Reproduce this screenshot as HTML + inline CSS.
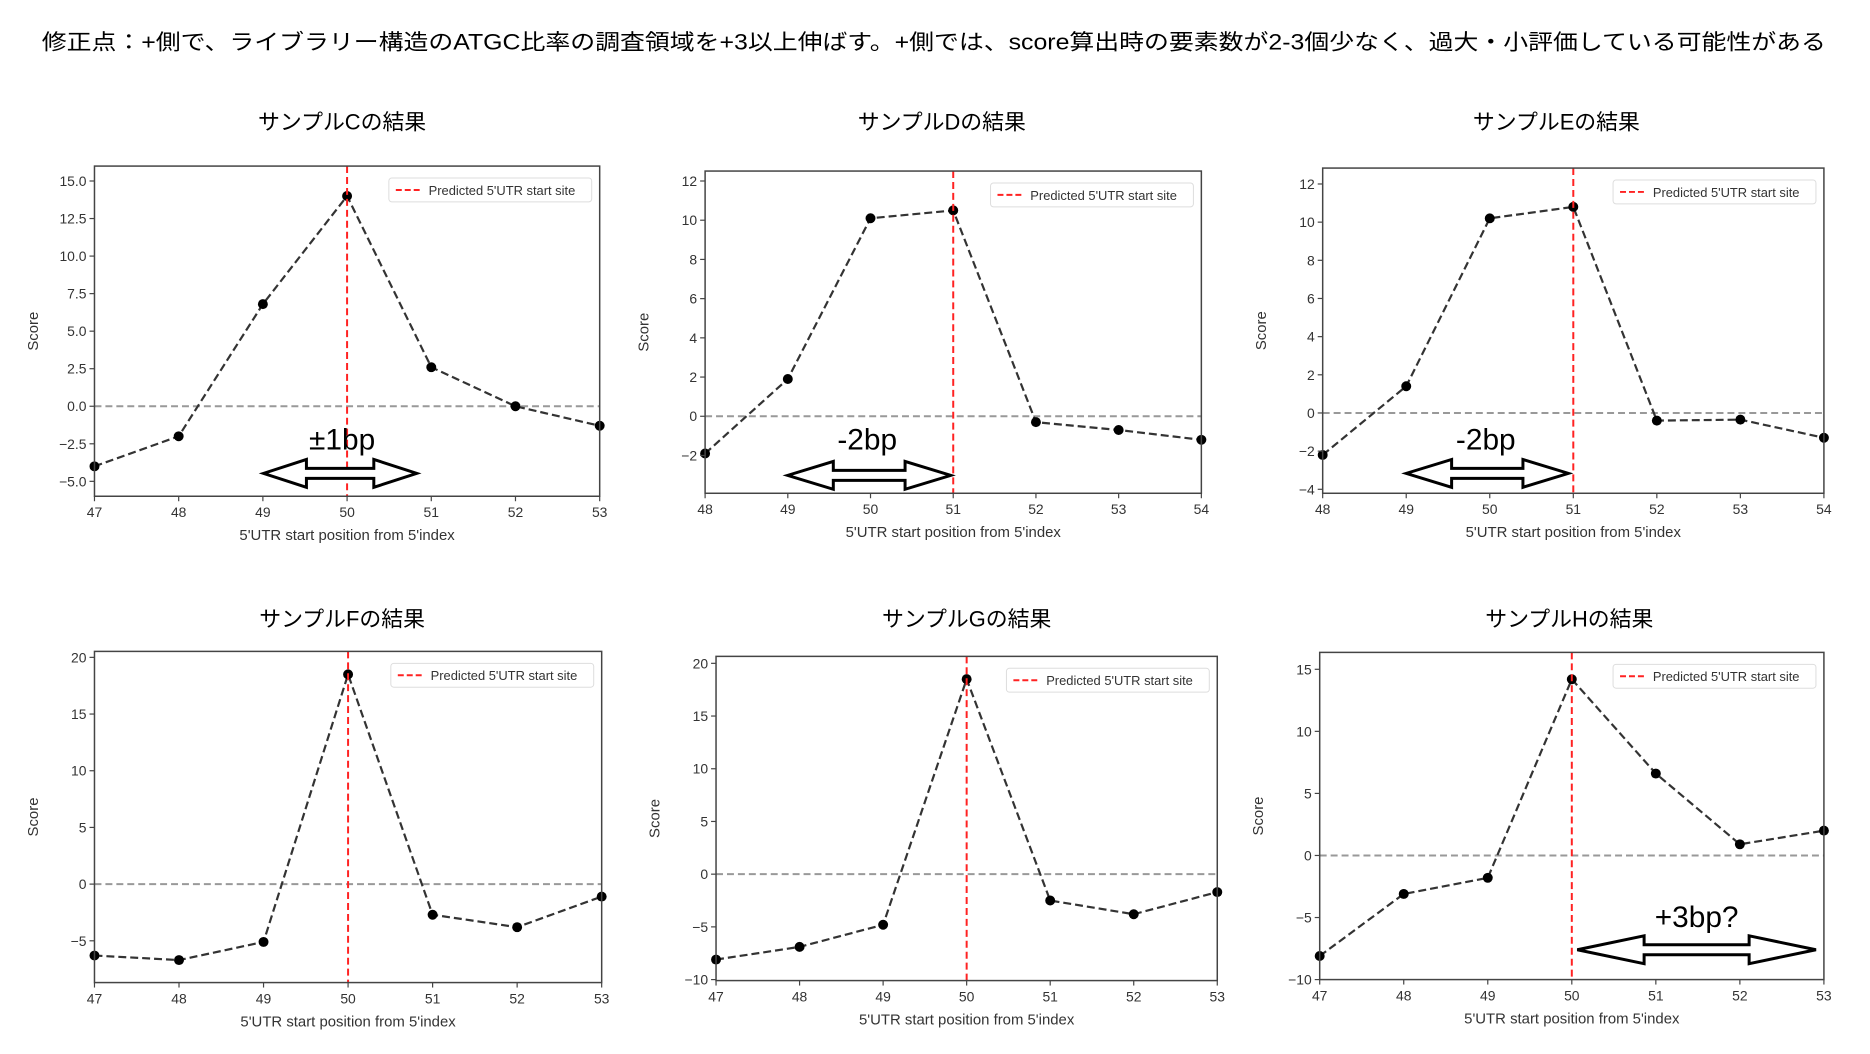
<!DOCTYPE html>
<html><head><meta charset="utf-8">
<style>
html,body{margin:0;padding:0;background:#fff;}
svg{display:block;font-family:"Liberation Sans","DejaVu Sans","Noto Sans CJK JP",sans-serif;}
</style></head>
<body>
<svg width="1870" height="1054" viewBox="0 0 1870 1054" xmlns="http://www.w3.org/2000/svg">
<g id="fig" transform="scale(0.9945)">
<text x="42" y="50" font-size="22" textLength="1794" lengthAdjust="spacingAndGlyphs" fill="#000" font-family="Liberation Sans, Noto Sans CJK JP, sans-serif">修正点：+側で、ライブラリー構造のATGC比率の調査領域を+3以上伸ばす。+側では、score算出時の要素数が2-3個少なく、過大・小評価している可能性がある</text>
</g>
</svg>
<script>
const xC=[47,48,49,50,51,52,53], yC=[-4.0,-2.0,6.8,14.0,2.6,0.0,-1.3];
const xD=[48,49,50,51,52,53,54], yD=[-1.9,1.9,10.1,10.5,-0.3,-0.7,-1.2];
const xE=[48,49,50,51,52,53,54], yE=[-2.2,1.4,10.2,10.8,-0.4,-0.35,-1.3];
const xF=[47,48,49,50,51,52,53], yF=[-6.3,-6.7,-5.1,18.5,-2.7,-3.8,-1.1];
const xG=[47,48,49,50,51,52,53], yG=[-8.1,-6.9,-4.8,18.5,-2.5,-3.8,-1.7];
const xH=[47,48,49,50,51,52,53], yH=[-8.1,-3.1,-1.8,14.2,6.6,0.9,2.0];
const ticksC=[-5,-2.5,0,2.5,5,7.5,10,12.5,15];
const ticksD=[-2,0,2,4,6,8,10,12];
const ticksE=[-4,-2,0,2,4,6,8,10,12];
const ticksF=[-5,0,5,10,15,20];
const ticksG=[-10,-5,0,5,10,15,20];
const ticksH=[-10,-5,0,5,10,15];
const predicted=[50,51,51,50,50,50];
const titles=["サンプルCの結果","サンプルDの結果","サンプルEの結果","サンプルFの結果","サンプルGの結果","サンプルHの結果"];
const annos=["±1bp","-2bp","-2bp",null,null,"+3bp?"];

const NS="http://www.w3.org/2000/svg";
const svg=document.getElementById('fig');
function mk(tag,attrs,parent){const e=document.createElementNS(NS,tag);for(const k in attrs)e.setAttribute(k,attrs[k]);(parent||svg).appendChild(e);return e;}

const panels=[
 {xs:xC,ys:yC,ticks:ticksC,fmt:1,l:95,r:603,t:167,b:499,ya:15,pa:182,yb:-5,pb:484,arrow:[265,419,476],lab:[344,452]},
 {xs:xD,ys:yD,ticks:ticksD,fmt:0,l:709,r:1208,t:172,b:496,ya:12,pa:182,yb:-2,pb:458,arrow:[792,956,478],lab:[872,452]},
 {xs:xE,ys:yE,ticks:ticksE,fmt:0,l:1330,r:1834,t:169,b:496,ya:12,pa:185,yb:-4,pb:492,arrow:[1414,1577,476],lab:[1494,452]},
 {xs:xF,ys:yF,ticks:ticksF,fmt:0,l:95,r:605,t:655,b:988,ya:20,pa:661,yb:-5,pb:946},
 {xs:xG,ys:yG,ticks:ticksG,fmt:0,l:720,r:1224,t:660,b:986,ya:20,pa:667,yb:-10,pb:985},
 {xs:xH,ys:yH,ticks:ticksH,fmt:0,l:1327,r:1834,t:656,b:985,ya:15,pa:673,yb:-10,pb:985,arrow:[1586,1826,955],lab:[1706,932]}
];
const titlePos=[[344,130],[947,130],[1565,130],[344,630],[972,630],[1578,630]];

panels.forEach((p,i)=>{
  const g=mk('g',{});
  
  
  const x0=p.xs[0], x1=p.xs[p.xs.length-1];
  const X=v=>p.l+(v-x0)/(x1-x0)*(p.r-p.l);
  const Y=v=>p.pb+(v-p.yb)/(p.ya-p.yb)*(p.pa-p.pb);
  const tt=mk('text',{x:titlePos[i][0],y:titlePos[i][1],'font-size':22,'text-anchor':'middle',fill:'#000'},g);
  tt.textContent=titles[i];
  
  
  const z=mk('line',{x1:p.l,x2:p.r,y1:Y(0),y2:Y(0),stroke:'#999','stroke-width':2,'stroke-dasharray':'7,4'},g);
  
  
  const pts=p.xs.map((x,k)=>X(x)+','+Y(p.ys[k])).join(' ');
  const pl=mk('polyline',{points:pts,fill:'none',stroke:'#333','stroke-width':2.2,'stroke-dasharray':'8,4'},g);
  
  
  p.xs.forEach((x,k)=>{
    const c=mk('circle',{cx:X(x),cy:Y(p.ys[k]),r:5,fill:'#000'},g);
    
    
  });
  const pv=mk('line',{x1:X(predicted[i]),x2:X(predicted[i]),y1:p.t,y2:p.b,stroke:'#f22','stroke-width':2,'stroke-dasharray':'7,4'},g);
  
  
  const fr=mk('rect',{x:p.l,y:p.t,width:p.r-p.l,height:p.b-p.t,fill:'none',stroke:'#444','stroke-width':1.5},g);
  
  
  p.ticks.forEach(v=>{
    mk('line',{x1:p.l-5,x2:p.l,y1:Y(v),y2:Y(v),stroke:'#444','stroke-width':1.2},g);
    const t=mk('text',{x:p.l-8,y:Y(v)+5,'font-size':14,'text-anchor':'end',fill:'#333'},g);
    t.textContent=(p.fmt?v.toFixed(1):String(v)).replace('-','−');
    
    
  });
  p.xs.forEach(v=>{
    mk('line',{x1:X(v),x2:X(v),y1:p.b,y2:p.b+5,stroke:'#444','stroke-width':1.2},g);
    const t=mk('text',{x:X(v),y:p.b+21,'font-size':14,'text-anchor':'middle',fill:'#333'},g);
    t.textContent=v;
    
    
  });
  const xl=mk('text',{x:(p.l+p.r)/2,y:p.b+44,'font-size':15,'text-anchor':'middle',fill:'#333'},g);
  xl.textContent="5'UTR start position from 5'index";
  
  
  const cy=(p.t+p.b)/2, lx=p.l-57;
  const yl=mk('text',{x:lx,y:cy,'font-size':15,'text-anchor':'middle',fill:'#333',transform:`rotate(-90 ${lx} ${cy})`},g);
  yl.textContent='Score';
  
  
  const lg=mk('g',{},g);
  
  
  const bx=p.r-212, by=p.t+12;
  mk('rect',{x:bx,y:by,width:204,height:24,rx:3,fill:'#fff',stroke:'#ddd'},lg);
  mk('line',{x1:bx+7,x2:bx+33,y1:by+12,y2:by+12,stroke:'#f22','stroke-width':2,'stroke-dasharray':'6,3'},lg);
  const lt=mk('text',{x:bx+40,y:by+17,'font-size':13,fill:'#333'},lg);
  lt.textContent="Predicted 5'UTR start site";
  
  
  if(p.arrow){
    const [a1,a2,ay]=p.arrow, hw=14, sw=5, hl=(a2-a1)*0.28;
    const d=`M${a1},${ay} L${a1+hl},${ay-hw} L${a1+hl},${ay-sw} L${a2-hl},${ay-sw} L${a2-hl},${ay-hw} L${a2},${ay} L${a2-hl},${ay+hw} L${a2-hl},${ay+sw} L${a1+hl},${ay+sw} L${a1+hl},${ay+hw} Z`;
    const ar=mk('path',{d:d,fill:'#fff',stroke:'#000','stroke-width':3,'stroke-linejoin':'miter'},g);
    
    
    const at=mk('text',{x:p.lab[0],y:p.lab[1],'font-size':30,'text-anchor':'middle',fill:'#000'},g);
    at.textContent=annos[i];
    
    
  }
});
</script>
</body></html>
